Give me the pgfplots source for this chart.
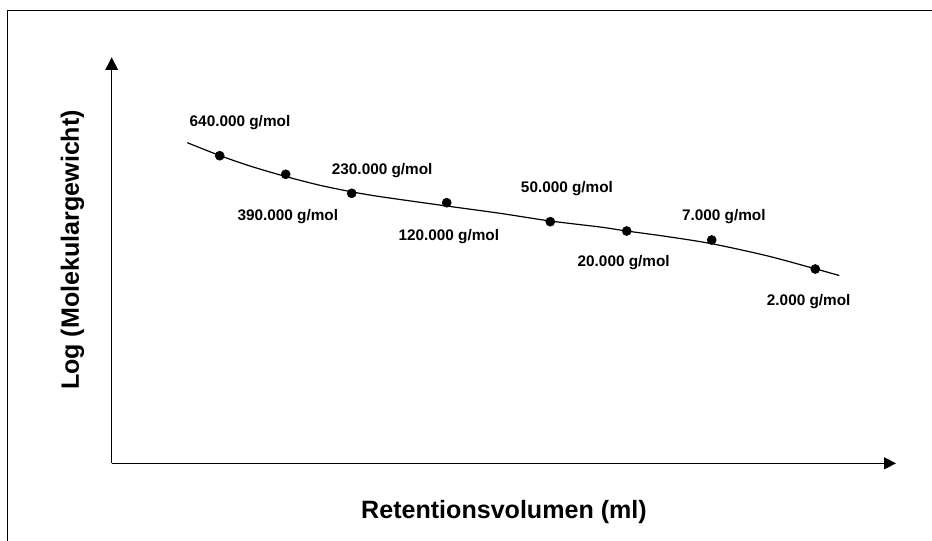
\documentclass[border=0pt]{standalone}
\usepackage{fontspec}
\setmainfont{Liberation Sans}
\usepackage{pgfplots}
\pgfplotsset{compat=1.18}
\usetikzlibrary{arrows.meta}
\newcommand{\labfont}{\bfseries\fontsize{11.5}{13}\selectfont}
\newcommand{\axfont}{\bfseries\fontsize{18.8}{22}\selectfont}
\begin{document}
\begin{tikzpicture}
\begin{axis}[
  scale only axis,
  width=588.2pt, height=304.5pt,
  xmin=111.7, xmax=896, ymin=76.7, ymax=482.7,
  axis lines=left,
  x axis line style={line width=0.9pt, -{Triangle[length=9pt,width=9pt]}},
  y axis line style={line width=0.9pt, -{Triangle[length=9.5pt,width=9.5pt]}},
  xtick=\empty, ytick=\empty,
  clip=false,
]
% fitted curve
\addplot[black, line width=0.9pt, smooth, no marks] coordinates {
(187.3,397.3) (219.7,384.5) (250,374) (285.7,363.5) (320,354.7)
(351.7,348.2) (380,343.4) (446.7,334) (500,326.7) (550.3,319)
(600,313) (626.7,309) (666.7,303.5) (711.7,296.3) (766.7,284.3)
(815.3,271.2) (839.3,264.5)
};
% measured points
\addplot[only marks, mark=*, mark size=3.4pt, black] coordinates {
(219.7,384.3) (285.7,365.7) (351.7,346.7) (446.7,337.3)
(550.3,318.3) (626.7,309) (711.7,300) (815.3,271)
};
\node[anchor=base, font=\labfont] at (axis cs:240,413.3) {640.000 g/mol};
\node[anchor=base, font=\labfont] at (axis cs:287.8,319.3) {390.000 g/mol};
\node[anchor=base, font=\labfont] at (axis cs:382.2,366) {230.000 g/mol};
\node[anchor=base, font=\labfont] at (axis cs:448.8,300) {120.000 g/mol};
\node[anchor=base, font=\labfont] at (axis cs:567,347.7) {50.000 g/mol};
\node[anchor=base, font=\labfont] at (axis cs:623.7,273.3) {20.000 g/mol};
\node[anchor=base, font=\labfont] at (axis cs:723.8,320) {7.000 g/mol};
\node[anchor=base, font=\labfont] at (axis cs:808.7,235) {2.000 g/mol};
% axis titles
\node[anchor=base, font=\axfont] at (axis cs:504,22) {Retentionsvolumen (ml)};
\node[anchor=base, rotate=90, font=\axfont] at (axis cs:79,290) {Log (Molekulargewicht)};
% outer frame
\draw[line width=0.8pt] (axis cs:7.3,-30) -- (axis cs:7.3,529.7) -- (axis cs:960,529.7);
\coordinate (bbBL) at (axis cs:0,0);
\coordinate (bbTR) at (axis cs:932,540);
\end{axis}
\pgfresetboundingbox
\useasboundingbox (bbBL) rectangle (bbTR);
\end{tikzpicture}
\end{document}
